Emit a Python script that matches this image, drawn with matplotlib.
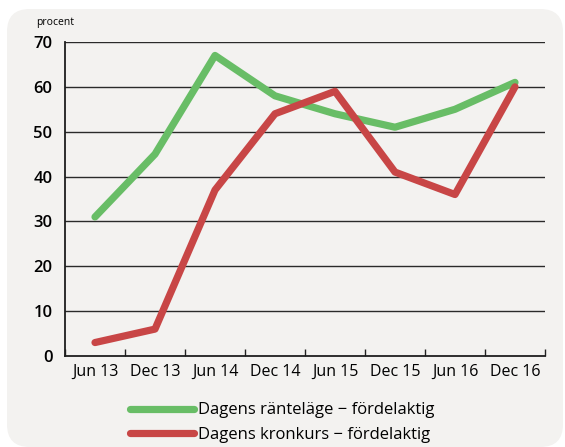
import matplotlib.pyplot as plt
import numpy as np
from matplotlib.patches import FancyBboxPatch

periods = ["Jun 13", "Dec 13", "Jun 14", "Dec 14", "Jun 15", "Dec 15", "Jun 16", "Dec 16"]
rantelage = [31, 45, 67, 58, 54, 51, 55, 61]
kronkurs = [3, 6, 37, 54, 59, 41, 36, 60]
labels = ["Dagens ränteläge \u2212 fördelaktig", "Dagens kronkurs \u2212 fördelaktig"]

plt.rcParams['font.family'] = ['Open Sans', 'DejaVu Sans']

W, H = 565, 447
fig = plt.figure(figsize=(W / 100, H / 100), dpi=100)
fig.patch.set_facecolor('white')

bg = FancyBboxPatch((7 / W, 0.0 / H), (556 / W), (438 / H),
                    boxstyle="round,pad=0,rounding_size=0.04",
                    transform=fig.transFigure, facecolor='#f3f2f0',
                    edgecolor='none', zorder=-10, mutation_aspect=W / H)
fig.patches.append(bg)

ax = fig.add_axes([65 / W, (H - 356) / H, 480 / W, 314 / H])
ax.set_facecolor('none')

x = np.arange(len(periods))
ax.plot(x, rantelage, color='#68bd66', lw=5.2, solid_capstyle='round',
        solid_joinstyle='round', label=labels[0], zorder=3)
ax.plot(x, kronkurs, color='#c84646', lw=5.2, solid_capstyle='round',
        solid_joinstyle='round', label=labels[1], zorder=3)

ax.set_xlim(-0.5, len(periods) - 0.5)
ax.set_ylim(0, 70)
ax.set_yticks(range(0, 71, 10))
ax.set_yticklabels([str(v) for v in range(0, 71, 10)], fontsize=12, fontweight='semibold')
ax.tick_params(axis='y', length=0, pad=9)
for v in range(10, 71, 10):
    ax.axhline(v, color='#2a2a2a', lw=1.0, zorder=1)

ax.set_xticks(np.arange(-0.5, len(periods), 1.0))
ax.set_xticklabels([])
ax.tick_params(axis='x', which='major', direction='in', length=5, width=1, color='#222222')
ax.set_xticks(x, minor=True)
ax.set_xticklabels(periods, minor=True, fontsize=11.5)
ax.tick_params(axis='x', which='minor', length=0, pad=6)

for s in ['top', 'right']:
    ax.spines[s].set_visible(False)
for s in ['left', 'bottom']:
    ax.spines[s].set_color('#1e1e1e')
    ax.spines[s].set_linewidth(1.3)

fig.text(36 / W, (H - 22) / H, "procent", fontsize=7.5, va='center', ha='left')

fig.legend(loc='upper left', bbox_to_anchor=(122 / W, (H - 394) / H), frameon=False,
           fontsize=12, handlelength=3.8, handletextpad=0.25, labelspacing=0.5,
           borderpad=0)

fig.savefig('out.png', dpi=100)
